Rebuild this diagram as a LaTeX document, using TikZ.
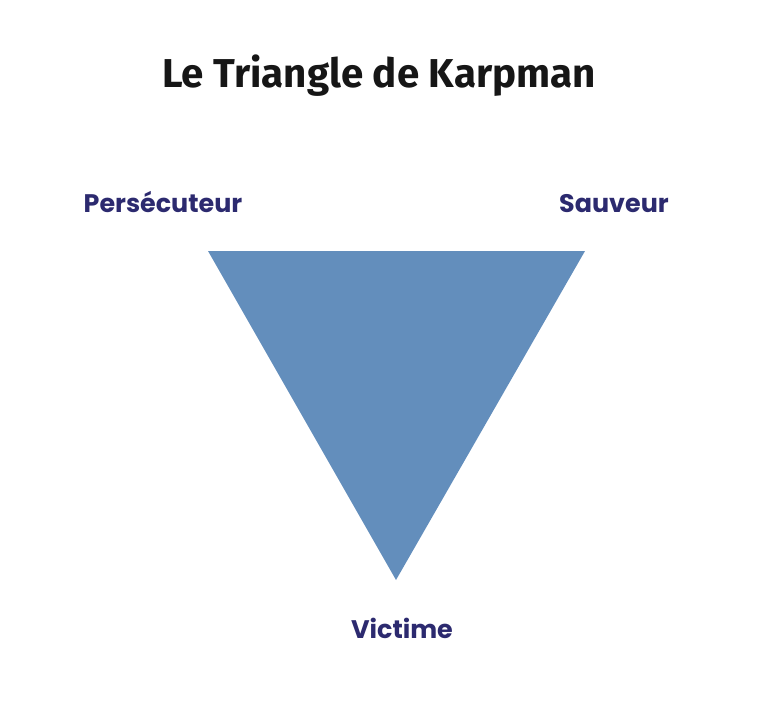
\documentclass[tikz,border=0pt]{standalone}
\usepackage{fontspec}
\newfontfamily\titlefont{Fira Sans}[UprightFont=* Bold]
\newfontfamily\labelfont{Poppins}[UprightFont=* Bold]
\definecolor{tri}{HTML}{638EBC}
\definecolor{lab}{HTML}{2C2A6F}
\definecolor{ttl}{HTML}{161616}
\begin{document}
\begin{tikzpicture}[x=1pt,y=-1pt,
  role/.style={font=\labelfont\fontsize{25.4}{30}\selectfont, text=lab, inner sep=0pt, anchor=base},
  titlestyle/.style={font=\titlefont\fontsize{40.3}{45}\selectfont, text=ttl, inner sep=0pt, anchor=base}]
\useasboundingbox (0,0) rectangle (765,723);
\node[titlestyle] (title) at (379,87) {Le Triangle de Karpman};
\coordinate (p) at (208,251);
\coordinate (s) at (585,251);
\coordinate (v) at (396,580);
\fill[tri] (p) -- (s) -- (v) -- cycle;
\node[role] (pers) at (163,212) {Persécuteur};
\node[role] (sauv) at (614,212) {Sauveur};
\node[role] (vict) at (402,638) {Victime};
\end{tikzpicture}
\end{document}
